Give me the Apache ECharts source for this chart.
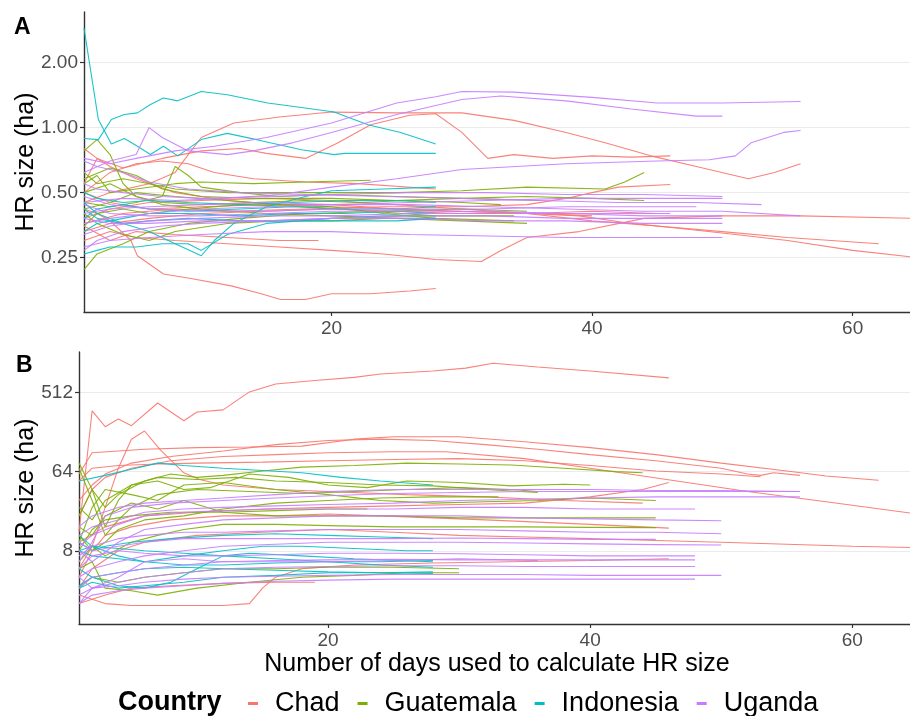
<!DOCTYPE html>
<html>
<head>
<meta charset="utf-8">
<script src="https://cdn.jsdelivr.net/npm/echarts@6/dist/echarts.min.js"></script>
<style>html,body{margin:0;padding:0;background:#fff}#c{width:910px;height:716px}</style>
</head>
<body>
<div id="c"></div>
<script>
// ---------- DATA ----------
const countries = ['Chad', 'Guatemala', 'Indonesia', 'Uganda'];
const xTicks = [20, 40, 60];
const yTicksA = [0.25, 0.5, 1, 2];
const yTicksB = [8, 64, 512];

// Panel A: HR size (ha) per individual, [day, value]
const aChad = [
  [[1,0.45],[3,0.5],[6,0.55],[8,0.62],[9,0.75],[10,0.9],[12.5,1.05],[16,1.12],[20,1.18],[25,1.17],[30,1.17],[34,1.08],[38,0.95],[41,0.85],[44.5,0.74],[48,0.66],[52,0.58],[54,0.62],[56,0.68]],
  [[1,0.55],[2,0.72],[4,0.65],[7,0.72],[10,0.78],[13,0.8],[15,0.76],[18,0.72],[20.5,0.85],[23,1.03],[26,1.14],[28,1.16],[30,0.95],[32,0.72],[34,0.75],[37,0.72],[40,0.74],[43,0.73],[46,0.74]],
  [[1,0.42],[2,0.4],[3,0.37],[4.6,0.3],[5.1,0.255],[7.1,0.21],[9.2,0.2],[12.3,0.185],[14.6,0.17],[16.1,0.16],[18,0.16],[20,0.17],[23,0.17],[26,0.175],[28,0.18]],
  [[1,0.3],[3,0.33],[5,0.31],[8,0.3],[12,0.29],[16,0.28],[20,0.27],[24,0.26],[28,0.245],[31.5,0.24],[33,0.27],[35,0.31],[39,0.33],[44,0.38],[50,0.39],[56,0.39],[65,0.38]],
  [[1,0.35],[3,0.3],[5,0.33],[8,0.32],[12,0.31],[16,0.3],[19,0.3]],
  [[1,0.5],[3,0.45],[6,0.42],[10,0.43],[15,0.44],[20,0.44],[25,0.42],[29,0.41],[35,0.4],[39,0.39],[43,0.36],[47,0.34],[51,0.32],[55,0.3],[60,0.27],[65,0.25]],
  [[1,0.38],[3,0.42],[6,0.45],[10,0.46],[15,0.47],[20,0.46],[25,0.44],[30,0.42],[35,0.4],[40,0.37],[45,0.35],[50,0.33],[55,0.31],[62,0.29]],
  [[1,0.36],[4,0.4],[8,0.42],[12,0.41],[18,0.42],[24,0.43],[30,0.43],[35,0.44],[38,0.47],[40,0.5],[42,0.53],[46,0.545]],
  [[1,0.5],[3,0.62],[5,0.68],[7,0.7],[9,0.68],[11,0.62],[14,0.58],[18,0.56],[22,0.55],[28,0.52]],
  [[1,0.8],[2,0.72],[3,0.66],[5,0.58],[8,0.5],[12,0.46],[16,0.44],[20,0.43],[25,0.42],[30,0.41],[36,0.4],[40,0.39]],
  [[1,0.33],[3,0.36],[6,0.38],[10,0.4],[15,0.41],[20,0.42],[25,0.41],[30,0.4],[35,0.4],[40,0.41],[45,0.4]]
];
const aGuatemala = [
  [[1,0.62],[2,0.55],[4,0.58],[6,0.55],[8,0.52],[12,0.5],[18,0.5],[25,0.5],[30,0.51],[35,0.53],[41,0.52],[42.5,0.56],[44,0.62]],
  [[1,0.55],[2,0.6],[3,0.5],[5,0.52],[8,0.55],[10,0.56],[14,0.55],[18,0.56],[23,0.57]],
  [[1,0.78],[2,0.88],[3,0.75],[4,0.55],[5,0.48],[7,0.45],[10,0.44],[14,0.45],[18,0.46],[22,0.45],[26,0.46],[30,0.45],[33,0.44]],
  [[1,0.45],[3,0.43],[5,0.45],[7,0.48],[8,0.66],[9,0.6],[10,0.53],[13,0.5],[16,0.48],[20,0.49],[25,0.48],[30,0.47],[36,0.46]],
  [[1,0.22],[2,0.26],[4,0.29],[6,0.33],[9,0.36],[13,0.38],[18,0.4],[24,0.41],[30,0.42],[35,0.41]],
  [[1,0.5],[3,0.55],[5,0.48],[7,0.44],[10,0.42],[15,0.4],[20,0.39],[25,0.38],[30,0.37],[35,0.36]],
  [[1,0.4],[2,0.36],[4,0.32],[6,0.3],[8,0.33],[12,0.36],[16,0.37],[20,0.37],[24,0.38],[28,0.38]],
  [[1,0.58],[3,0.65],[5,0.6],[7,0.52],[10,0.48],[14,0.47],[20,0.47],[25,0.46],[30,0.47],[35,0.48],[40,0.47],[44,0.46]],
  [[1,0.42],[3,0.45],[5,0.5],[8,0.48],[12,0.46],[16,0.44],[20,0.43],[24,0.4],[28,0.38],[34,0.37]],
  [[1,0.35],[2,0.4],[4,0.42],[6,0.4],[9,0.42],[13,0.44],[18,0.43],[23,0.41],[28,0.39],[34,0.39]]
];
const aIndonesia = [
  [[1,2.89],[2.1,1.09],[3.1,0.84],[4.1,0.89],[5.1,0.82],[6.1,0.75],[7.1,0.82],[8.2,0.74],[10,0.88],[12,0.94],[14.6,0.87],[17.7,0.79],[20.2,0.75],[21,0.76],[24,0.76],[28,0.76]],
  [[1,0.89],[2.1,0.88],[3.1,1.09],[4.1,1.15],[5.1,1.17],[6.1,1.28],[7.1,1.37],[8.2,1.33],[10,1.47],[12,1.42],[15.1,1.3],[17.7,1.24],[20.2,1.18],[22.8,1.03],[25.3,0.95],[28,0.84]],
  [[1,0.45],[2,0.4],[4,0.36],[6,0.33],[8,0.29],[10,0.255],[11,0.3],[12.5,0.36],[15,0.43],[18,0.48],[20,0.51],[24,0.52],[28,0.53]],
  [[1,0.26],[2,0.27],[3,0.28],[5,0.28],[7,0.29],[9,0.29],[10,0.27],[12,0.32],[15,0.36],[20,0.38],[24,0.39],[28,0.39]],
  [[1,0.5],[2,0.47],[4,0.45],[6,0.46],[9,0.45],[13,0.44],[17,0.45],[21,0.46],[25,0.46],[28,0.45]],
  [[1,0.38],[2,0.42],[4,0.44],[6,0.42],[9,0.41],[13,0.42],[17,0.43],[21,0.42],[25,0.42],[28,0.43]],
  [[1,0.33],[2,0.36],[4,0.38],[6,0.4],[9,0.4],[13,0.39],[17,0.4],[21,0.4],[25,0.41],[28,0.4]],
  [[1,0.42],[2,0.38],[4,0.36],[6,0.37],[9,0.38],[13,0.37],[17,0.37],[21,0.37],[25,0.37],[28,0.38]]
];
const aUganda = [
  [[1,0.72],[3,0.68],[5,0.72],[8,0.78],[11,0.82],[15,0.9],[20,1.05],[25,1.3],[28,1.39],[30,1.47],[34,1.46],[40,1.38],[45,1.3],[50,1.3],[56,1.32]],
  [[1,0.62],[3,0.7],[5,0.75],[6,1.0],[7,0.9],[9,0.78],[12,0.75],[14,0.78],[17,0.85],[20,0.95],[25,1.15],[30,1.35],[33,1.4],[38,1.33],[43,1.22],[48,1.13],[50,1.13]],
  [[1,0.45],[4,0.47],[8,0.46],[12,0.47],[16,0.49],[20,0.53],[25,0.58],[30,0.64],[38,0.68],[45,0.7],[49,0.71],[51,0.74],[52.2,0.85],[54.7,0.95],[56,0.97]],
  [[1,0.7],[2,0.66],[4,0.62],[6,0.56],[9,0.52],[13,0.5],[18,0.49],[24,0.48],[30,0.47],[36,0.46],[42,0.45],[48,0.45],[53,0.44]],
  [[1,0.36],[3,0.38],[6,0.4],[10,0.42],[15,0.43],[20,0.44],[26,0.45],[32,0.46],[38,0.47],[44,0.47],[50,0.47]],
  [[1,0.4],[3,0.42],[6,0.43],[10,0.44],[15,0.45],[20,0.44],[26,0.44],[32,0.43],[38,0.42],[44,0.41],[50,0.41],[56,0.39]],
  [[1,0.32],[3,0.35],[6,0.37],[10,0.38],[15,0.39],[20,0.39],[26,0.4],[32,0.4],[38,0.4],[44,0.39],[50,0.39]],
  [[1,0.28],[3,0.3],[6,0.31],[10,0.32],[15,0.33],[20,0.33],[26,0.32],[32,0.315],[38,0.31],[44,0.31],[50,0.31]],
  [[1,0.48],[3,0.44],[6,0.42],[10,0.41],[15,0.41],[20,0.42],[26,0.42],[32,0.42],[38,0.43],[44,0.43],[48,0.43]],
  [[1,0.38],[3,0.36],[6,0.36],[10,0.37],[15,0.37],[20,0.38],[26,0.38],[32,0.37],[38,0.37],[44,0.36],[50,0.36]],
  [[1,0.44],[3,0.4],[6,0.39],[10,0.39],[15,0.4],[20,0.41],[26,0.41],[32,0.41],[38,0.4],[44,0.4],[46,0.4]],
  [[1,0.27],[2,0.3],[4,0.33],[7,0.35],[10,0.36],[15,0.37],[20,0.38],[26,0.39],[32,0.39],[38,0.38],[44,0.38],[50,0.38]],
  [[1,0.55],[2,0.52],[4,0.5],[7,0.48],[10,0.47],[15,0.48],[20,0.49],[26,0.5],[32,0.5],[38,0.49],[44,0.49],[50,0.48]]
];

// Panel B
const bChad = [
  [[1,13],[2,316],[3,208],[4,255],[5,214],[7,388],[9,243],[10,306],[12,324],[14,519],[16,640],[19,700],[22,760],[24,830],[28,900],[30.5,970],[32.6,1100],[36,1000],[40,900],[46,750]],
  [[1,5],[2,9],[3,25],[4,70],[5,150],[6,186],[7.2,113],[9,62],[10.2,52],[12,45],[16,40],[20,38],[26,35],[32,33],[38,30],[44,28]],
  [[1,60],[2,105],[4,110],[6,115],[10,120],[14,122],[18,125],[22,150],[25,160],[30,160],[35,140],[40,120],[45,100],[50,80],[55,65],[58,57],[62,51]],
  [[1,30],[2,45],[3,60],[5,80],[8,95],[12,110],[16,130],[20,145],[24,150],[28,145],[32,130],[36,115],[40,100],[45,85],[50,70],[52,60],[53,58],[54,62],[56,58]],
  [[1,20],[2,40],[3,55],[5,70],[8,85],[12,95],[16,100],[20,105],[25,108],[29,108],[35,90],[40,70],[47,49],[52,38],[58,29],[65,21]],
  [[1,3],[2,5],[4,8],[6,10],[10,12],[15,13],[20,14],[25,13],[30,12],[35,11.5],[40,11],[45,10.5],[50,10],[55,9.5],[60,9],[65,8.7]],
  [[1,4],[2,8],[3,12],[5,15],[8,18],[12,20],[16,20],[20,21],[24,20],[28,19],[32,18],[36,17],[40,16],[46,14.5]],
  [[1,10],[3,15],[6,20],[10,22],[15,24],[20,25],[25,26],[30,27],[35,28],[40,33],[44,40],[46,48]],
  [[1,2],[3,2.5],[5,3],[8,3.2],[12,3.4],[16,3.5],[19,3.5]],
  [[1,2.5],[3,2],[5,1.9],[8,1.9],[12,1.9],[14,2],[15,3],[16,4],[18,5],[22,5.5],[28,5.8],[34,6],[40,6.2],[46,6.5]],
  [[1,50],[2,70],[4,75],[7,78],[10,80],[15,82],[20,85],[25,88],[30,90],[35,85],[40,75],[45,65],[50,60],[53,56]]
];
const bGuatemala = [
  [[1,80],[2,40],[3,25],[4,35],[6,50],[8,60],[10,55],[12,58],[15,65],[18,72],[22,75],[26,80],[30,78],[34,76],[38,70],[42,64],[44,62]],
  [[1,20],[2,40],[3,15],[4,30],[5,45],[7,50],[9,40],[11,42],[14,60],[17,55],[20,45],[23,42],[26,50],[30,48],[34,44],[38,46],[40,45]],
  [[1,10],[2,25],[3,40],[5,35],[7,30],[9,45],[12,48],[16,40],[20,35],[24,30],[28,28],[32,29],[36,30],[40,32],[45,30]],
  [[1,15],[2,12],[3,20],[5,28],[7,24],[9,30],[12,22],[16,20],[20,20],[25,20],[30,19],[35,19],[40,19],[45,19]],
  [[1,6],[2,9],[3,7],[5,10],[7,12],[9,14],[12,16],[16,16],[20,15.5],[25,15],[30,15],[35,15],[40,14.8],[45,14.7]],
  [[1,3],[2,4],[4,3.5],[6,4],[9,4.5],[12,5],[16,5],[20,5.2],[25,5.2],[30,5]],
  [[1,70],[2,30],[3,12],[4,18],[5,25],[7,35],[10,40],[14,38],[18,36],[22,38],[26,40],[30,42],[34,40],[36,38]],
  [[1,8],[2,14],[3,18],[5,20],[8,22],[12,22],[16,23],[20,24],[23,24]],
  [[1,5],[2,6],[3,3],[5,2.8],[7,2.5],[10,3],[14,3.5],[18,4],[22,4.2],[26,4.5],[30,4.5]],
  [[1,25],[2,18],[3,30],[5,45],[7,55],[10,52],[13,55],[16,50],[20,48],[24,45],[28,44],[32,40],[36,37]],
  [[1,12],[2,8],[3,10],[4,14],[6,18],[9,20],[12,24],[16,28],[20,30],[24,32],[28,33],[33,33]]
];
const bIndonesia = [
  [[1,50],[3,58],[5,68],[7,80],[9,75],[12,70],[15,66],[18,62],[21,55],[24,50],[28,45]],
  [[1,10],[2,8],[3,9],[5,10],[8,11],[12,12],[16,12.5],[20,12],[24,11.5],[28,11]],
  [[1,8],[2,7],[4,6.5],[6,6],[9,7],[12,8],[15,9],[18,9],[22,8.5],[26,8],[28,8]],
  [[1,3],[2,3.5],[4,3],[6,3.2],[9,3.5],[12,4],[16,4.2],[20,4.5],[24,4.5],[28,4.6]],
  [[1,3.2],[2,4],[4,4.5],[6,5],[9,5.2],[12,5],[16,4.8],[20,4.6],[24,4.5],[28,4.4]],
  [[1,12],[2,9],[4,7],[6,6],[9,5.5],[12,5.5],[16,5.8],[20,6],[24,6],[28,6.2]],
  [[1,5],[2,4],[4,3.2],[6,3],[8,3.5],[10,5],[12,7],[14,7.5],[18,7],[22,6.5],[28,6]],
  [[1,8],[2,9],[4,8.5],[6,8],[9,7.5],[12,7],[16,6.5],[20,6],[24,5.5],[28,5.2]]
];
const bUganda = [
  [[1,6],[2,10],[3,20],[5,25],[8,28],[12,30],[16,32],[20,34],[25,36],[30,37],[35,38],[40,38],[45,38],[50,38],[56,38]],
  [[1,12],[2,15],[4,18],[6,22],[9,24],[12,25],[16,26],[20,27],[25,28],[30,30],[35,31],[40,32],[45,33],[50,33],[56,33]],
  [[1,8],[2,6],[4,10],[6,14],[9,16],[12,18],[16,19],[20,20],[25,20],[30,20],[35,19],[40,18.5],[45,18],[50,17.6]],
  [[1,4],[2,5],[4,6],[6,7],[9,8],[12,9],[16,9.5],[20,10],[25,10],[30,10],[35,9.8],[40,9.6],[45,9.4],[50,9.3]],
  [[1,3],[2,4],[4,4.5],[6,5],[9,5.5],[12,6],[16,6.2],[20,6.3],[25,6.4],[30,6.3],[35,6.3],[40,6.3],[48,6.3]],
  [[1,2],[2,3],[4,3.5],[6,4],[9,4.5],[12,5],[16,5.2],[20,5.3],[25,5.4],[30,5.4],[35,5.3],[40,5.3],[48,5.3]],
  [[1,2.5],[2,3],[4,3.2],[6,3.5],[9,3.8],[12,4],[16,4.1],[20,4.2],[25,4.3],[30,4.3],[35,4.3],[40,4.2],[45,4.2],[50,4.2]],
  [[1,2],[2,2.5],[4,2.8],[6,3],[9,3.2],[12,3.4],[16,3.6],[20,3.7],[25,3.8],[30,3.8],[35,3.8],[40,3.8],[48,3.8]],
  [[1,9],[2,12],[4,16],[6,20],[9,22],[12,23],[16,24],[20,24],[25,24],[30,25],[35,25],[40,24],[45,24],[48,24]],
  [[1,7],[2,9],[4,11],[6,12],[9,13],[12,13],[16,13.5],[20,14],[25,14],[30,14],[35,13.5],[40,13],[45,13],[50,12.5]],
  [[1,5],[2,7],[4,8],[6,7.5],[9,7],[12,7],[16,7.2],[20,7.5],[25,7.5],[30,7.4],[35,7.2],[40,7],[48,7]],
  [[1,10],[2,8],[4,9],[6,10],[9,11],[12,11],[16,11],[20,11],[25,11],[30,11.2],[35,11],[40,10.8],[45,10.8]],
  [[1,4],[2,3],[4,4],[6,6],[9,6.5],[12,6],[16,6],[20,6],[25,6.2],[30,6.5],[36,6.2]],
  [[1,15],[2,20],[4,25],[6,28],[9,30],[12,32],[16,35],[20,38],[25,40],[30,40],[35,40],[40,40],[45,39],[50,39],[56,38]]
];

// ---------- CHART ----------
const COLORS = { Chad: '#F8766D', Guatemala: '#7CAE00', Indonesia: '#00BFC4', Uganda: '#C77CFF' };
const FONT = "'Liberation Sans', Arial, sans-serif";
const panelA = { Chad: aChad, Guatemala: aGuatemala, Indonesia: aIndonesia, Uganda: aUganda };
const panelB = { Chad: bChad, Guatemala: bGuatemala, Indonesia: bIndonesia, Uganda: bUganda };

const series = [];
function addPanel(panel, idx) {
  countries.forEach(function (c) {
    panel[c].forEach(function (pts) {
      series.push({
        type: 'line', name: c, xAxisIndex: idx, yAxisIndex: idx, data: pts,
        showSymbol: false, symbol: 'none', silent: true, clip: true, animation: false,
        lineStyle: { width: 1.1, color: COLORS[c], opacity: 0.9 },
        itemStyle: { color: COLORS[c] }, z: 3
      });
    });
  });
}
addPanel(panelA, 0);
addPanel(panelB, 1);

function xAxis(gridIndex) {
  return {
    type: 'value', gridIndex: gridIndex, min: 1, max: 64.4,
    axisLine: { show: true, onZero: false, lineStyle: { color: '#333', width: 1.4 } },
    axisTick: { show: true, length: 4, customValues: xTicks, lineStyle: { color: '#333', width: 1.2 } },
    axisLabel: { customValues: xTicks, fontSize: 19, color: '#4d4d4d', fontFamily: FONT, margin: 7 },
    splitLine: { show: false }
  };
}
function yAxis(gridIndex, min, max, ticks, fmt) {
  return {
    type: 'log', logBase: 2, gridIndex: gridIndex, min: min, max: max,
    axisLine: { show: true, onZero: false, lineStyle: { color: '#333', width: 1.4 } },
    axisTick: { show: true, length: 4, customValues: ticks, lineStyle: { color: '#333', width: 1.2 } },
    axisLabel: { customValues: ticks, fontSize: 19, color: '#4d4d4d', fontFamily: FONT, margin: 6, formatter: fmt },
    splitLine: { show: true, lineStyle: { color: '#ebebeb', width: 1 } }
  };
}

const chart = echarts.init(document.getElementById('c'), null, { renderer: 'canvas' });
chart.setOption({
  backgroundColor: '#fff',
  animation: false,
  grid: [
    { left: 84, top: 12, width: 826, height: 300 },
    { left: 79, top: 352, width: 831, height: 272 }
  ],
  xAxis: [xAxis(0), xAxis(1)],
  yAxis: [
    yAxis(0, 0.140, 3.43, yTicksA, function (v) { return (+v).toFixed(2); }),
    yAxis(1, 1.17, 1480, yTicksB, function (v) { return String(Math.round(v)); })
  ],
  legend: {
    data: countries.map(function (c) { return { name: c, icon: 'rect' }; }),
    left: 243, top: 685, itemWidth: 10, itemHeight: 3, itemGap: 18,
    selectedMode: false,
    textStyle: { fontSize: 27, color: '#000', fontFamily: FONT, padding: [0, 0, 0, 12] }
  },
  graphic: [
    { type: 'text', x: 14, y: 28, style: { text: 'A', fontSize: 23, fontWeight: 'bold', fill: '#000', fontFamily: FONT, textVerticalAlign: 'middle' } },
    { type: 'text', x: 16, y: 366, style: { text: 'B', fontSize: 23, fontWeight: 'bold', fill: '#000', fontFamily: FONT, textVerticalAlign: 'middle' } },
    { type: 'text', x: 26, y: 162, rotation: Math.PI / 2, style: { text: 'HR size (ha)', fontSize: 25, fill: '#000', fontFamily: FONT, textAlign: 'center', textVerticalAlign: 'middle' } },
    { type: 'text', x: 26, y: 488, rotation: Math.PI / 2, style: { text: 'HR size (ha)', fontSize: 25, fill: '#000', fontFamily: FONT, textAlign: 'center', textVerticalAlign: 'middle' } },
    { type: 'text', x: 497, y: 664, style: { text: 'Number of days used to calculate HR size', fontSize: 25, fill: '#000', fontFamily: FONT, textAlign: 'center', textVerticalAlign: 'middle' } },
    { type: 'text', x: 118, y: 703, style: { text: 'Country', fontSize: 27, fontWeight: 'bold', fill: '#000', fontFamily: FONT, textVerticalAlign: 'middle' } }
  ],
  series: series
});
</script>
</body>
</html>
